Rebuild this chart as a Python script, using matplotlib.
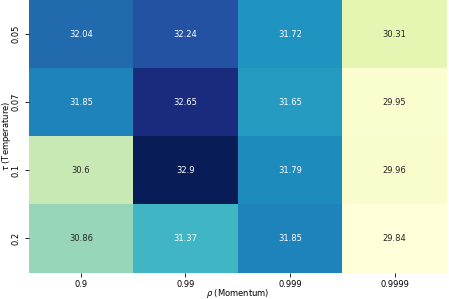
import matplotlib
matplotlib.use("Agg")
import matplotlib.pyplot as plt
import numpy as np
import seaborn as sns

momentum = ["0.9", "0.99", "0.999", "0.9999"]
temperature = ["0.05", "0.07", "0.1", "0.2"]
acc_005 = [32.04, 32.24, 31.72, 30.31]
acc_007 = [31.85, 32.65, 31.65, 29.95]
acc_01 = [30.6, 32.9, 31.79, 29.96]
acc_02 = [30.86, 31.37, 31.85, 29.84]

grid = np.array([acc_005, acc_007, acc_01, acc_02])

fig = plt.figure(figsize=(4.49, 2.99), dpi=100)
ax = fig.add_axes([28.5 / 449, 1 - 272.5 / 299, 418.5 / 449, 272.5 / 299])
sns.heatmap(grid, ax=ax, cmap="YlGnBu", annot=True, fmt="g", cbar=False,
            xticklabels=momentum, yticklabels=temperature,
            annot_kws={"fontsize": 6})
ax.set_xlabel(r"$\rho$ (Momentum)", fontsize=6)
ax.set_ylabel(r"$\tau$ (Temperature)", fontsize=6)
ax.tick_params(labelsize=6, length=3, width=0.6, pad=2.5)
plt.setp(ax.get_yticklabels(), rotation=90, va="center")
# labels sit tight against the figure edge, as in the original
ax.xaxis.set_label_coords(0.5, -0.054)
ax.yaxis.set_label_coords(-0.037, 0.5)
fig.savefig("out.png", dpi=100)
